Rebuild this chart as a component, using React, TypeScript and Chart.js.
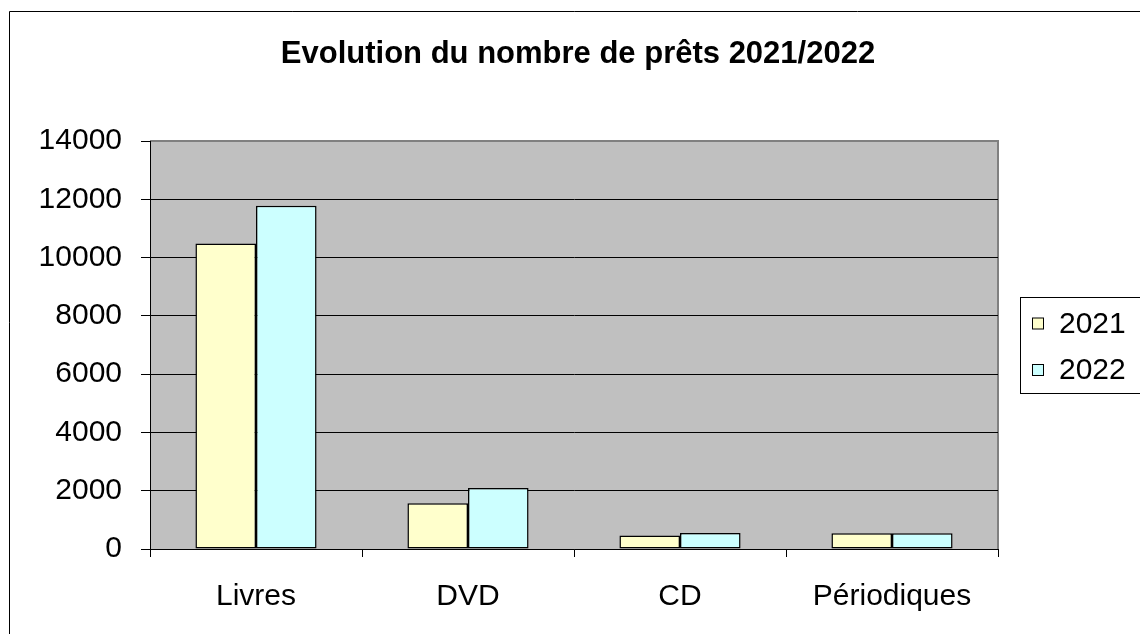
import React, { useEffect, useRef } from 'react';
import { Chart, registerables } from 'chart.js';

Chart.register(...registerables);

const chartTitle = 'Evolution du nombre de prêts 2021/2022';
const categories = ['Livres', 'DVD', 'CD', 'Périodiques'];
const seriesNames = ['2021', '2022'];
const values2021 = [10480, 1570, 460, 540];
const values2022 = [11780, 2090, 550, 540];
const seriesColors = ['#FFFFCC', '#CCFFFF'];
const yMin = 0;
const yMax = 14000;
const yStep = 2000;

const FONT = "'Liberation Sans', Arial, sans-serif";

const decorPlugin = {
  id: 'decor',
  beforeDraw(chart: any) {
    const { ctx, chartArea, width, height } = chart;
    ctx.save();
    ctx.fillStyle = '#FFFFFF';
    ctx.fillRect(0, 0, width, height);
    // outer frame (left & top visible)
    ctx.strokeStyle = '#000000';
    ctx.lineWidth = 1;
    ctx.beginPath();
    ctx.moveTo(9.5, height);
    ctx.lineTo(9.5, 11.5);
    ctx.lineTo(width, 11.5);
    ctx.stroke();
    // plot background
    ctx.fillStyle = '#C0C0C0';
    ctx.fillRect(chartArea.left, chartArea.top, chartArea.right - chartArea.left, chartArea.bottom - chartArea.top);
    ctx.strokeStyle = '#808080';
    ctx.lineWidth = 2;
    ctx.beginPath();
    ctx.moveTo(chartArea.left, chartArea.top);
    ctx.lineTo(chartArea.right, chartArea.top);
    ctx.lineTo(chartArea.right, chartArea.bottom);
    ctx.stroke();
    // title
    ctx.fillStyle = '#000000';
    ctx.font = `bold 31px ${FONT}`;
    ctx.textAlign = 'center';
    ctx.textBaseline = 'middle';
    ctx.fillText(chartTitle, 578, 54);
    ctx.restore();
  },
  afterDraw(chart: any) {
    const { ctx } = chart;
    ctx.save();
    // legend box
    ctx.strokeStyle = '#000000';
    ctx.lineWidth = 1;
    ctx.strokeRect(1020.5, 297.5, 130, 96);
    ctx.font = `30px ${FONT}`;
    ctx.textAlign = 'left';
    ctx.textBaseline = 'middle';
    const ys = [323.5, 370];
    chart.data.datasets.forEach((ds: any, i: number) => {
      const y = ys[i];
      ctx.fillStyle = ds.backgroundColor;
      ctx.fillRect(1032.5, y - 5.5, 11, 11);
      ctx.strokeStyle = '#000000';
      ctx.strokeRect(1032.5, y - 5.5, 11, 11);
      ctx.fillStyle = '#000000';
      ctx.fillText(ds.label, 1059, y + 1);
    });
    ctx.restore();
  },
};

export default function App() {
  const ref = useRef<HTMLCanvasElement | null>(null);
  useEffect(() => {
    if (!ref.current) return;
    const chart = new Chart(ref.current, {
      type: 'bar',
      data: {
        labels: categories,
        datasets: [
          {
            label: seriesNames[0],
            data: values2021,
            backgroundColor: seriesColors[0],
            borderColor: '#000000',
            borderWidth: 1.5,
            borderSkipped: false,
            categoryPercentage: 2 / 3.5,
            barPercentage: 1,
          },
          {
            label: seriesNames[1],
            data: values2022,
            backgroundColor: seriesColors[1],
            borderColor: '#000000',
            borderWidth: 1.5,
            borderSkipped: false,
            categoryPercentage: 2 / 3.5,
            barPercentage: 1,
          },
        ],
      },
      options: {
        responsive: false,
        animation: false,
        layout: { padding: { left: 0, right: 142, top: 141, bottom: 0 } },
        plugins: {
          legend: { display: false },
          title: { display: false },
          tooltip: { enabled: false },
        },
        scales: {
          x: {
            offset: true,
            grid: {
              offset: true,
              drawOnChartArea: false,
              drawTicks: true,
              tickLength: 8,
              tickColor: '#000000',
              color: '#000000',
            },
            border: { display: true, color: '#000000', width: 1 },
            ticks: {
              color: '#000000',
              font: { family: FONT, size: 30 },
              padding: 22,
              maxRotation: 0,
            },
            afterFit(scale: any) {
              scale.height = 85;
            },
          },
          y: {
            min: yMin,
            max: yMax,
            grid: {
              color: (c: any) => (c.tick && c.tick.value === yMax ? '#808080' : '#000000'),
              lineWidth: 1,
              drawTicks: true,
              tickLength: 9,
              tickColor: '#000000',
            },
            border: { display: true, color: '#000000', width: 1 },
            ticks: {
              stepSize: yStep,
              color: '#000000',
              font: { family: FONT, size: 30 },
              padding: 19,
              callback: (v: any) => String(v),
            },
            afterFit(scale: any) {
              scale.width = 150;
            },
          },
        },
      },
      plugins: [decorPlugin],
    });
    return () => chart.destroy();
  }, []);
  return (
    <div style={{ position: 'absolute', left: 0, top: 0 }}>
      <canvas ref={ref} width={1140} height={634} />
    </div>
  );
}
